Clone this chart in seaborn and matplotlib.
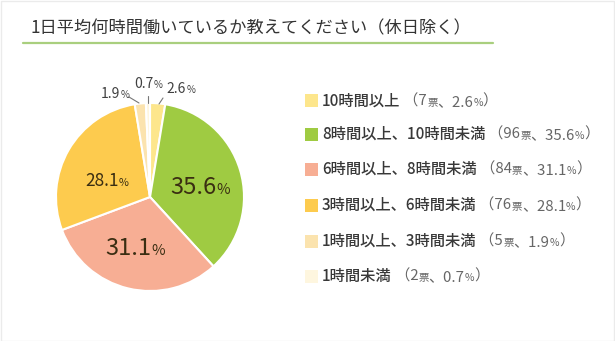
import matplotlib
matplotlib.use("Agg")
import matplotlib.pyplot as plt
import seaborn as sns
from matplotlib.patches import Rectangle
from matplotlib.lines import Line2D

title = "1日平均何時間働いているか教えてください（休日除く）"
categories = ["10時間以上", "8時間以上、10時間未満", "6時間以上、8時間未満",
              "3時間以上、6時間未満", "1時間以上、3時間未満", "1時間未満"]
votes = [7, 96, 84, 76, 5, 2]
percents = [2.6, 35.6, 31.1, 28.1, 1.9, 0.7]
colors = ["#FDE68C", "#9FCB42", "#F7AE94", "#FDCB4E", "#FBE3AE", "#FEF6DF"]

sns.set_theme(style="white")
plt.rcParams['font.family'] = ['Noto Sans CJK JP', 'DejaVu Sans']

W, H = 615, 341
fig = plt.figure(figsize=(W / 100, H / 100), dpi=100)
fig.patch.set_facecolor("white")

# faint border
fig.add_artist(Rectangle((0.5 / W, 0.5 / H), 1 - 1.5 / W, 1 - 1.5 / H, transform=fig.transFigure,
                         fill=False, edgecolor="#EBEBEB", linewidth=1))

def fx(px):
    return px / W

def fy(py):
    return 1 - py / H

# title
fig.text(fx(30), fy(28), title, fontsize=12.4, color="#333333", va="center", ha="left")
fig.add_artist(Line2D([fx(23), fx(493)], [fy(43), fy(43)], transform=fig.transFigure,
                      color="#A9CF7E", linewidth=1.6))

# pie
cx, cy, R = 150, 197, 94
ax = fig.add_axes([fx(cx - R), fy(cy + R), 2 * R / W, 2 * R / H])
ax.pie(percents, colors=colors, startangle=90, counterclock=False,
       wedgeprops=dict(edgecolor="white", linewidth=1.5))
ax.set_xlim(-1, 1)
ax.set_ylim(-1, 1)
ax.set_aspect("auto")
ax.axis("off")

fig.canvas.draw()
renderer = fig.canvas.get_renderer()

def chain(x_px, y_px, parts, ha="left"):
    """parts: list of (text, size, color, weight). y_px is baseline pixel from top."""
    artists = []
    widths = []
    for s, size, col, wt in parts:
        t = fig.text(0, 0, s, fontsize=size, color=col, fontweight=wt, va="baseline", ha="left")
        bb = t.get_window_extent(renderer)
        artists.append(t)
        widths.append(bb.width)
    total = sum(widths)
    if ha == "center":
        x_px = x_px - total / 2
    x = x_px
    for t, w in zip(artists, widths):
        t.set_position((fx(x), fy(y_px)))
        x += w
    return artists

def pct_text(val):
    return f"{val:.1f}"

# inner labels (center x, baseline y, size)
inner = {1: (200, 194, 17), 2: (135, 255, 17), 3: (107, 186, 12.5)}
for i, (x, y, s) in inner.items():
    chain(x, y, [(pct_text(percents[i]), s, "#3A2E12", "normal"),
                 ("%", s * 0.62, "#3A2E12", "normal")], ha="center")

# outer labels
outer = {4: (115, 98, (129, 97), (139, 103)),
         5: (148, 88, (148, 96), (148, 103)),
         0: (181, 93, (163, 98), (159, 104))}
for i, (x, y, p0, p1) in outer.items():
    chain(x, y, [(pct_text(percents[i]), 10, "#404040", "normal"),
                 ("%", 7, "#404040", "normal")], ha="center")
    fig.add_artist(Line2D([fx(p0[0]), fx(p1[0])], [fy(p0[1]), fy(p1[1])],
                          transform=fig.transFigure, color="#777777", linewidth=0.8))

# legend
rows_y = [101, 134, 169, 205, 241, 276]
for cat, v, p, c, y in zip(categories, votes, percents, colors, rows_y):
    fig.add_artist(Rectangle((fx(305), fy(y + 6.5)), 13 / W, 13 / H, transform=fig.transFigure,
                             facecolor=c, edgecolor="none"))
    chain(322, y + 5, [(cat, 11, "#383838", "medium"),
                       (" （" + str(v), 10.8, "#666666", "normal"),
                       ("票", 7.5, "#666666", "normal"),
                       ("、" + pct_text(p), 10.8, "#666666", "normal"),
                       ("%", 7.5, "#666666", "normal"),
                       ("）", 10.8, "#666666", "normal")])

fig.savefig("out.png", dpi=100, facecolor="white")
